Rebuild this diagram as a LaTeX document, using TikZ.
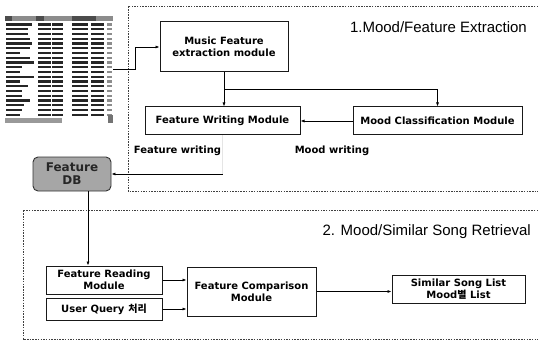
\documentclass[tikz,border=0pt]{standalone}
\usepackage{fontspec}
\setmainfont{DejaVu Sans}
\newfontfamily\titlefont{Liberation Sans}
\newfontfamily\kr{Noto Sans CJK KR}
\usepackage{tikz}
\usetikzlibrary{arrows.meta}

\begin{document}
\begin{tikzpicture}[x=1pt,y=-1pt,
	module/.style={shape=rectangle,draw=black!90,line width=1pt,fill=white,inner sep=0pt,align=center,font=\bfseries\fontsize{10}{12}\selectfont},
	conn/.style={-{Latex[length=4pt,width=3pt]},line width=0.7pt,black},
	plain/.style={-,line width=0.7pt,black},
	region/.style={dash pattern=on 1.5pt off 1.2pt,line width=0.7pt,black!75},
	title/.style={font=\titlefont\fontsize{15}{17}\selectfont,anchor=east,inner sep=0pt},
	lbl/.style={font=\bfseries\fontsize{10}{12}\selectfont,inner sep=0pt},
	cell/.style={line width=2.3pt,black!85}]
			\useasboundingbox (0,0) rectangle (538,342);
			
			\draw[region] (538,6) -- (128,6) -- (128,191) -- (538,191);
			\draw[region] (538,210) -- (23,210) -- (23,339) -- (538,339);
			
			% file list screenshot
			\node[shape=rectangle,minimum width=108pt,minimum height=112pt,inner sep=0pt] (sheet) at (59,69) {};
			\fill[black!45] (5,16) rectangle (113,21);
			\fill[black!70] (5,16) rectangle (12,21);
			\fill[black!70] (36,16) rectangle (44,21);
			\fill[black!70] (72,16) rectangle (96,21);
			\foreach \len [count=\i from 0] in {26,22,22,24,26,24,14,24,28,16,14,28,14,22,16,16,24,18,16,14} {
				\pgfmathsetmacro\yy{24.5+\i*4.75}
				\draw[cell] (6,\yy) -- ++(\len,0);
				\draw[cell] (38,\yy) -- ++(13,0);
				\draw[cell] (52,\yy) -- ++(11,0);
				\draw[cell] (72,\yy) -- ++(16,0);
				\draw[cell] (91,\yy) -- ++(13,0);
				\draw[cell,black!45] (107,\yy) -- ++(5,0);
			}
			\fill[black!40] (5,118) rectangle (62,123);
			\fill[black!55] (108,115) rectangle (113,123);
			
			\node[module,minimum width=128pt,minimum height=50pt] (music) at (224,47) {Music Feature\\extraction module};
			\node[module,minimum width=155pt,minimum height=28pt] (write) at (222.5,121) {Feature Writing Module};
			\node[module,minimum width=169pt,minimum height=28pt] (mood) at (437.5,121) {Mood Classification Module};
			\node[shape=rectangle,rounded corners=5pt,draw=black!80,line width=0.9pt,fill=black!35,text=black!85,minimum width=78pt,minimum height=34pt,inner sep=0pt,align=center,font=\bfseries\fontsize{12}{13}\selectfont] (DB) at (72,174) {Feature\\DB};
			\node[module,minimum width=116pt,minimum height=28pt] (read) at (104,280) {Feature Reading\\Module};
			\node[module,minimum width=116pt,minimum height=22pt] (query) at (104,309) {User Query\hspace{4pt}{\kr 처리}};
			\node[module,minimum width=129pt,minimum height=49pt] (comp) at (251.5,291.5) {Feature Comparison\\Module};
			\node[module,minimum width=133pt,minimum height=28pt] (similar) at (458.5,289) {Similar Song List\\Mood{\kr 별} List};
			
			\node[title] (t1) at (527,27) {1.Mood/Feature Extraction};
			\node[title] (t2) at (531,232) {2. Mood/Similar Song Retrieval};
			\node[lbl] (fw) at (177.5,151) {Feature writing};
			\node[lbl] (mw) at (332,151) {Mood writing};
			
			\coordinate (split) at (224,89);
			\draw[conn] (sheet.east) -- ++(22,0) |- (music.west);
			\path [plain] (music.south) edge (split);
			\draw[conn] (split) -- (write.north -| split);
			\draw[conn] (split) -| (mood.north);
			\path [conn] (mood.west) edge (write.east);
			\draw[gray!20,line width=0.5pt] (write.south) -- (write.south |- DB.east);
			\draw[conn] (write.south |- DB.east) -- (DB.east);
			\path [conn] ([xshift=16pt]DB.south) edge ([xshift=-16pt]read.north);
			\draw[conn] (read.east) -- (read.east -| comp.west);
			\draw[conn] (query.east) -- (query.east -| comp.west);
			\draw[conn] (comp.east) -- (comp.east -| similar.west);
\end{tikzpicture}
\end{document}
